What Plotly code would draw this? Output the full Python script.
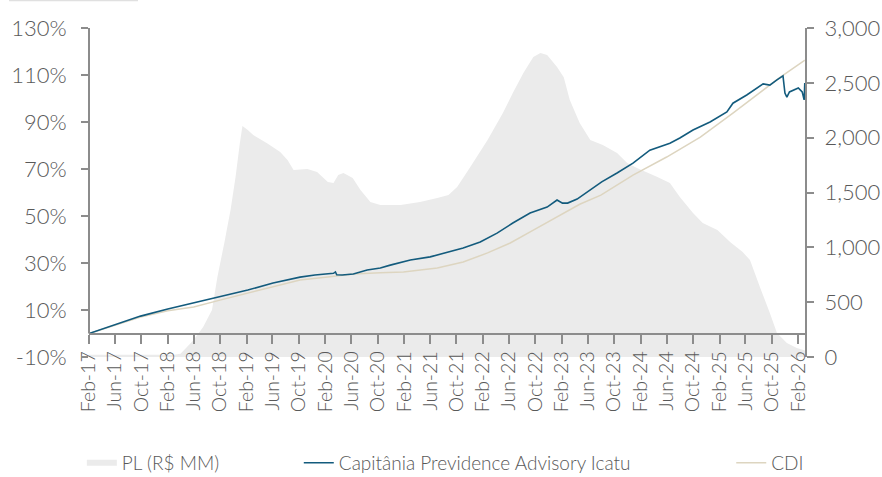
import plotly.graph_objects as go

# ---- Data ----
pl_dates = ["2017-02-01", "2018-03-01", "2018-04-01", "2018-06-01", "2018-07-15",
            "2018-08-25", "2018-09-19", "2018-10-21", "2018-11-19", "2018-12-12",
            "2019-01-01", "2019-01-13", "2019-02-07", "2019-03-04", "2019-05-07",
            "2019-07-07", "2019-08-10", "2019-09-07", "2019-11-10", "2019-12-25",
            "2020-02-13", "2020-03-10", "2020-04-01", "2020-04-25", "2020-06-07",
            "2020-07-13", "2020-08-28", "2020-10-13", "2021-01-15", "2021-04-15",
            "2021-07-04", "2021-08-25", "2021-10-04", "2021-12-04", "2022-02-22",
            "2022-05-04", "2022-06-19", "2022-08-07", "2022-09-22", "2022-10-25",
            "2022-11-25", "2023-01-10", "2023-02-10", "2023-03-10", "2023-04-25",
            "2023-06-13", "2023-08-10", "2023-10-15", "2023-12-01", "2024-01-15",
            "2024-04-19", "2024-06-16", "2024-08-01", "2024-10-01", "2024-11-15",
            "2025-01-22", "2025-03-22", "2025-05-19", "2025-06-22", "2025-08-07",
            "2025-09-22", "2025-10-25", "2025-12-10", "2026-01-25", "2026-02-25",
            "2026-03-04"]
pl_values = [20, 20, 30, 155, 273,
             428, 730, 1040, 1340, 1640,
             1950, 2106, 2070, 2024, 1950,
             1870, 1796, 1705, 1714, 1686,
             1595, 1586, 1659, 1677, 1632,
             1522, 1413, 1385, 1385, 1413,
             1450, 1477, 1550, 1732, 1978,
             2224, 2407, 2589, 2735, 2771,
             2753, 2644, 2552, 2343, 2133,
             1978, 1933, 1860, 1768, 1723,
             1641, 1586, 1459, 1313, 1222,
             1158, 1048, 957, 884, 638,
             401, 219, 128, 82, 64,
             60]

cap_dates = ["2017-02-01", "2017-05-25", "2017-09-28", "2018-02-01", "2018-06-01",
             "2018-10-01", "2019-02-07", "2019-06-04", "2019-10-07", "2019-12-15",
             "2020-03-10", "2020-03-19", "2020-03-25", "2020-04-19", "2020-06-10",
             "2020-08-13", "2020-10-13", "2020-11-28", "2021-03-01", "2021-06-01",
             "2021-09-01", "2021-11-01", "2022-01-19", "2022-04-07", "2022-06-19",
             "2022-09-07", "2022-11-25", "2023-01-10", "2023-02-04", "2023-02-28",
             "2023-04-13", "2023-05-28", "2023-08-05", "2023-10-15", "2023-12-28",
             "2024-03-15", "2024-05-01", "2024-06-16", "2024-08-01", "2024-10-01",
             "2024-12-19", "2025-03-07", "2025-04-04", "2025-06-07", "2025-08-22",
             "2025-09-22", "2025-10-25", "2025-11-22", "2025-12-01", "2025-12-10",
             "2025-12-22", "2026-01-16", "2026-02-01", "2026-02-19", "2026-02-28",
             "2026-03-03"]
cap_values = [0.0, 3.6, 7.4, 10.4, 13.0,
              15.5, 18.5, 21.5, 24.0, 24.9,
              25.6, 26.2, 25.0, 24.9, 25.3,
              27.0, 27.9, 29.1, 31.3, 32.6,
              34.7, 36.4, 38.9, 42.7, 47.0,
              51.3, 53.8, 56.8, 55.5, 55.5,
              57.2, 60.2, 64.5, 68.3, 72.5,
              78.0, 79.4, 81.0, 83.2, 86.6,
              90.0, 94.3, 98.0, 101.5, 106.2,
              105.7, 107.9, 109.6, 102.3, 100.6,
              102.8, 104.0, 104.5, 102.8, 99.4,
              106.6]

cdi_dates = ["2017-02-01", "2017-05-25", "2017-09-28", "2018-02-01", "2018-06-01",
             "2018-10-01", "2019-02-07", "2019-06-04", "2019-10-07", "2020-02-13",
             "2020-06-10", "2020-10-13", "2021-01-28", "2021-07-04", "2021-11-01",
             "2022-02-22", "2022-06-07", "2022-09-22", "2023-01-10", "2023-04-25",
             "2023-08-01", "2023-12-28", "2024-06-01", "2024-11-04", "2025-04-04",
             "2025-09-10", "2025-11-10", "2026-02-25", "2026-03-03"]
cdi_values = [0.0, 3.2, 7.0, 9.7, 11.3,
              14.2, 17.2, 20.2, 22.8, 24.0,
              25.3, 25.8, 26.2, 27.9, 30.4,
              34.3, 38.5, 44.0, 49.6, 55.0,
              58.9, 67.4, 75.1, 83.6, 93.8,
              104.9, 109.1, 115.9, 116.3]

pct_tickvals = [-10, 10, 30, 50, 70, 90, 110, 130]
pct_ticktext = ["-10%", "10%", "30%", "50%", "70%", "90%", "110%", "130%"]

assert len(pl_dates) == len(pl_values)
assert len(cap_dates) == len(cap_values)
assert len(cdi_dates) == len(cdi_values)

TXT = "#595959"
AX = "#8c8c8c"
FONT = "Lato"

fig = go.Figure()
fig.add_trace(go.Scatter(x=pl_dates, y=pl_values, name="PL (R$ MM)", mode="none",
                         fill="tozeroy", fillcolor="#ebebeb", yaxis="y",
                         legend="legend", showlegend=True, hoverinfo="skip"))
fig.add_trace(go.Scatter(x=cdi_dates, y=cdi_values, name="CDI", mode="lines",
                         line=dict(color="#ddd5c0", width=1.5), yaxis="y2",
                         legend="legend3", showlegend=True))
fig.add_trace(go.Scatter(x=cap_dates, y=cap_values,
                         name="Capitânia Previdence Advisory Icatu", mode="lines",
                         line=dict(color="#135b7d", width=1.6), yaxis="y2",
                         legend="legend2", showlegend=True))

leg_common = dict(orientation="h", yanchor="middle", y=-0.322, xanchor="left",
                  bgcolor="rgba(0,0,0,0)",
                  font=dict(family=FONT, size=19, color=TXT, weight=300))

fig.update_layout(
    width=882, height=477,
    showlegend=True,
    margin=dict(l=89, r=77, t=28, b=120, autoexpand=False),
    paper_bgcolor="white", plot_bgcolor="white",
    font=dict(family=FONT, color=TXT),
    xaxis=dict(type="date", range=["2017-02-01", "2026-03-04"],
               tick0="2017-02-01", dtick="M4", tickformat="%b-%y",
               tickangle=-90, ticks="outside", ticklen=9, tickwidth=2,
               tickcolor=AX, showline=True, linecolor=AX, linewidth=2,
               showgrid=False, zeroline=False, anchor="free",
               position=10 / 140, automargin=False,
               tickfont=dict(family=FONT, size=19.5, color=TXT, weight=300)),
    yaxis=dict(range=[0, 3000], dtick=500, tickformat=",", side="right",
               ticks="outside", ticklen=7, tickwidth=2, tickcolor=AX,
               showline=True, linecolor=AX, linewidth=2, showgrid=False,
               zeroline=False, ticklabelstandoff=6, automargin=False,
               tickfont=dict(family=FONT, size=22, color=TXT, weight=300)),
    yaxis2=dict(range=[-10, 130], tickmode="array", tickvals=pct_tickvals,
                ticktext=pct_ticktext,
                overlaying="y", side="left", ticks="outside", ticklen=7,
                tickwidth=2, tickcolor=AX, showline=False, showgrid=False,
                zeroline=False, ticklabelstandoff=10, automargin=False,
                tickfont=dict(family=FONT, size=22, color=TXT, weight=300)),
    legend=dict(x=-0.01, **leg_common),
    legend2=dict(x=0.293, **leg_common),
    legend3=dict(x=0.897, **leg_common),
    shapes=[
        dict(type="line", xref="paper", yref="y2", x0=0, x1=0, y0=0, y1=130,
             line=dict(color=AX, width=2), layer="above"),
        dict(type="line", xref="paper", yref="paper", x0=-0.1117, x1=0.0684,
             y0=1.084, y1=1.084, line=dict(color="#e0e0e0", width=2)),
    ],
)

fig.write_html("out.html", config={"displayModeBar": False},
               post_script="document.body.style.margin='0';")
